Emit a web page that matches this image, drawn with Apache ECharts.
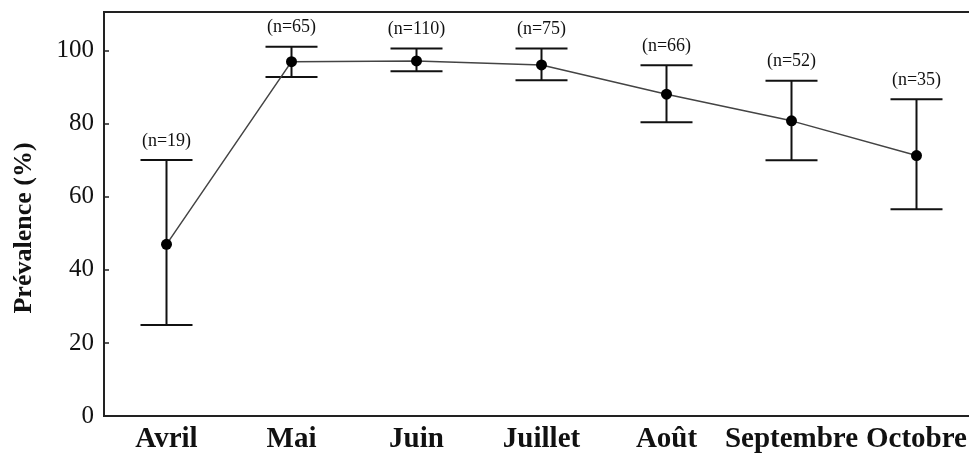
<!DOCTYPE html>
<html>
<head>
<meta charset="utf-8">
<script src="https://cdn.jsdelivr.net/npm/echarts@6/dist/echarts.min.js"></script>
<style>
html,body{margin:0;padding:0;background:#fff;}
#chart{width:969px;height:454px;}
</style>
</head>
<body>
<div id="chart"></div>
<script>
var months = ['Avril', 'Mai', 'Juin', 'Juillet', 'Août', 'Septembre', 'Octobre'];
var prevalence = [47.0, 97.0, 97.2, 96.1, 88.1, 80.8, 71.3];
var lowerCI = [24.9, 92.8, 94.4, 91.9, 80.4, 70.0, 56.6];
var upperCI = [70.1, 101.1, 100.6, 100.6, 96.0, 91.8, 86.7];
var sampleSizes = [19, 65, 110, 75, 66, 52, 35];
var yTicks = [0, 20, 40, 60, 80, 100];

var serif = 'Liberation Serif';
var errData = months.map(function (m, i) { return [i, lowerCI[i], upperCI[i], sampleSizes[i]]; });

var chart = echarts.init(document.getElementById('chart'));
chart.setOption({
  animation: false,
  backgroundColor: '#fff',
  grid: { left: 104, top: 12, width: 875, height: 404, outerBoundsMode: 'none', containLabel: false, show: true, borderColor: '#222', borderWidth: 2, backgroundColor: 'transparent' },
  xAxis: {
    type: 'category',
    data: months,
    boundaryGap: true,
    axisLine: { lineStyle: { color: '#222', width: 2 } },
    axisTick: { inside: true, length: 5, lineStyle: { color: '#222', width: 1.5 } },
    axisLabel: { color: '#111', fontFamily: serif, fontWeight: 'bold', fontSize: 29, margin: 9, interval: 0 }
  },
  yAxis: {
    type: 'value',
    min: 0,
    max: 110.6,
    interval: 20,
    axisLine: { show: true, lineStyle: { color: '#222', width: 2 } },
    axisTick: { show: true, inside: true, length: 5, lineStyle: { color: '#222', width: 1.5 } },
    splitLine: { show: false },
    axisLabel: {
      color: '#111', fontFamily: serif, fontSize: 25, margin: 10,
      formatter: function (v) { return yTicks.indexOf(v) >= 0 ? String(v) : ''; }
    }
  },
  graphic: [{
    type: 'text', x: 24, y: 228, rotation: Math.PI / 2,
    style: { text: 'Prévalence (%)', fill: '#111', font: 'bold 26px "Liberation Serif"', textAlign: 'center', textVerticalAlign: 'middle' }
  }],
  series: [
    {
      type: 'custom',
      data: errData,
      z: 2,
      renderItem: function (params, api) {
        var x = api.value(0);
        var lo = api.coord([x, api.value(1)]);
        var hi = api.coord([x, api.value(2)]);
        var hw = 26;
        var st = { stroke: '#111', lineWidth: 2 };
        return {
          type: 'group',
          children: [
            { type: 'line', shape: { x1: lo[0], y1: lo[1], x2: hi[0], y2: hi[1] }, style: st },
            { type: 'line', shape: { x1: hi[0] - hw, y1: hi[1], x2: hi[0] + hw, y2: hi[1] }, style: st },
            { type: 'line', shape: { x1: lo[0] - hw, y1: lo[1], x2: lo[0] + hw, y2: lo[1] }, style: st },
            { type: 'text', x: hi[0], y: hi[1] - 19, style: { text: '(n=' + api.value(3) + ')', fill: '#111', font: '18px "Liberation Serif"', textAlign: 'center', textVerticalAlign: 'middle' } }
          ]
        };
      }
    },
    {
      type: 'line',
      data: prevalence,
      z: 3,
      symbol: 'circle',
      symbolSize: 11,
      itemStyle: { color: '#000' },
      lineStyle: { color: '#444', width: 1.5 }
    }
  ]
});
</script>
</body>
</html>
